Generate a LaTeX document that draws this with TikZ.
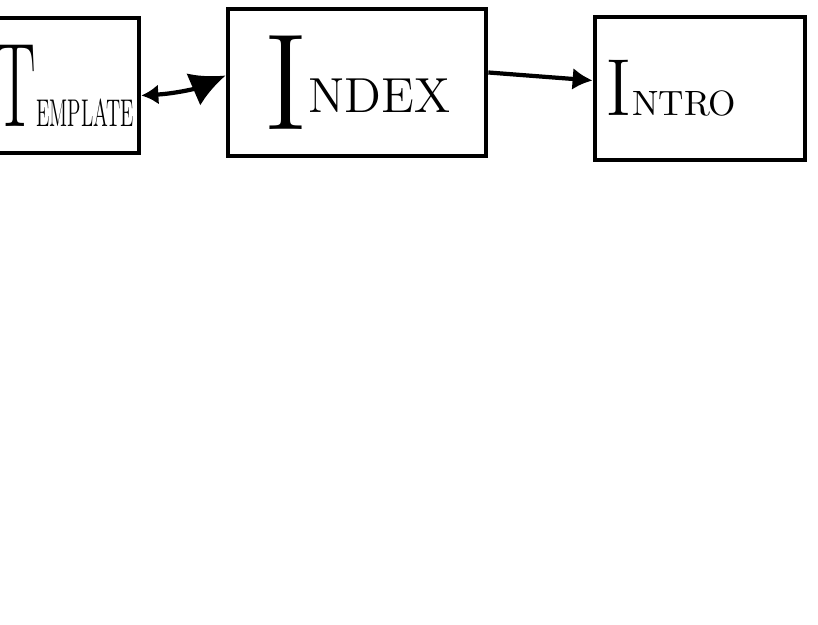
\documentclass[tikz,border=0pt]{standalone}
\usepackage{graphicx}
\usetikzlibrary{arrows.meta, positioning}
\tikzset{
  page/.style={draw, line width=1.3pt, inner sep=0pt},
  link/.style={line width=1.2pt},
}

\begin{document}
\begin{tikzpicture}[x=0.01cm, y=-0.01cm]
  \useasboundingbox (0,0) rectangle (818,625);
  \clip (0,0) rectangle (818,625);
  % pages
  \node[page, minimum width=14.9mm, minimum height=13.5mm] (template) at (64.5,85.5)
    {\scalebox{0.52}[1]{{\fontsize{34}{34}\selectfont T}{\fontsize{11}{11}\selectfont EMPLATE}}};
  \node[page, minimum width=25.8mm, minimum height=14.7mm] (index) at (357,82.5)
    {{\fontsize{39}{39}\selectfont I}\raisebox{4.8pt}{\fontsize{14}{14}\selectfont NDEX}};
  \node[page, minimum width=21mm, minimum height=14.3mm] (intro) at (700,88.5)
    {{\fontsize{23}{23}\selectfont I}{\fontsize{10}{10}\selectfont NTRO}\hspace*{5.8mm}};
  % links
  \draw[link, {Latex[length=1.7mm,width=2mm]}-{Latex[length=3.5mm,width=3.5mm]}]
    ([yshift=-1mm]template.east) to[bend right=10] ([yshift=0.7mm]index.west);
  \draw[link, -{Latex[length=2mm,width=2.2mm]}]
    ([yshift=1mm]index.east) -- ([yshift=0.8mm]intro.west);
\end{tikzpicture}
\end{document}
